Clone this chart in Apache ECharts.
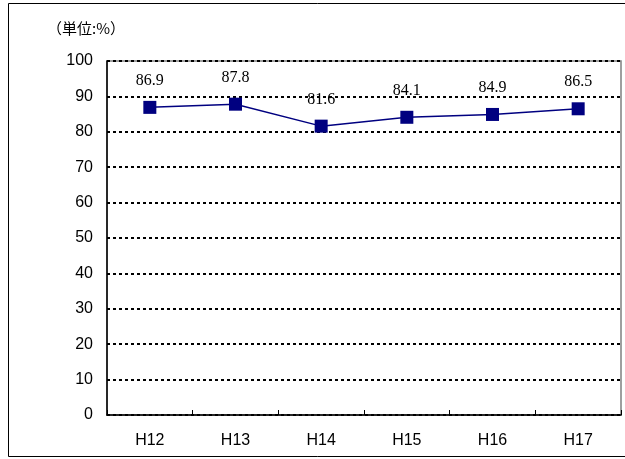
<!DOCTYPE html>
<html>
<head>
<meta charset="utf-8">
<script src="https://cdn.jsdelivr.net/npm/echarts@6/dist/echarts.min.js"></script>
<style>
  html, body { margin: 0; padding: 0; background: #fff; }
  #chart { width: 625px; height: 459px; }
</style>
</head>
<body>
<div id="chart"></div>
<script>
  // 年度と値
  var years = ['H12', 'H13', 'H14', 'H15', 'H16', 'H17'];
  var rates = [86.9, 87.8, 81.6, 84.1, 84.9, 86.5];
  var unitLabel = '（単位:%）';

  var chart = echarts.init(document.getElementById('chart'));
  chart.setOption({
    backgroundColor: '#ffffff',
    animation: false,
    graphic: [
      {
        type: 'rect',
        shape: { x: 8.5, y: 3.5, width: 630, height: 453 },
        style: { fill: 'none', stroke: '#000', lineWidth: 1 },
        silent: true
      },
      {
        type: 'rect',
        shape: { x: 107, y: 61, width: 514, height: 354 },
        style: { fill: 'none', stroke: '#808080', lineWidth: 1.5 },
        silent: true,
        z: 1
      },
      {
        type: 'text',
        left: 47,
        top: 21,
        style: {
          text: unitLabel,
          fontSize: 15,
          fontFamily: '"Noto Sans CJK JP", sans-serif',
          fill: '#000'
        }
      }
    ],
    grid: { left: 107, right: 4, top: 61, bottom: 44, containLabel: false },
    xAxis: {
      type: 'category',
      data: years,
      boundaryGap: true,
      axisLine: { lineStyle: { color: '#000', width: 1.5 } },
      axisTick: { show: true, inside: true, length: 5, alignWithLabel: false, lineStyle: { color: '#000', width: 1 } },
      axisLabel: {
        fontSize: 16,
        fontFamily: 'Arial, "Liberation Sans", sans-serif',
        color: '#000',
        margin: 18
      },
      z: 3
    },
    yAxis: {
      type: 'value',
      min: 0,
      max: 100,
      interval: 10,
      axisLine: { show: true, lineStyle: { color: '#000', width: 1.5 } },
      axisTick: { show: false },
      axisLabel: {
        fontSize: 16,
        fontFamily: 'Arial, "Liberation Sans", sans-serif',
        color: '#000',
        margin: 14
      },
      splitLine: {
        show: true,
        lineStyle: { color: '#000', width: 2, type: [3, 3] }
      },
      z: 3
    },
    series: [
      {
        type: 'line',
        data: rates,
        symbol: 'rect',
        symbolSize: 13,
        itemStyle: { color: '#000080' },
        lineStyle: { color: '#000080', width: 1.5 },
        label: {
          show: true,
          position: 'top',
          distance: 12,
          fontSize: 16,
          fontFamily: '"Liberation Serif", "Times New Roman", serif',
          color: '#000',
          formatter: function (p) { return p.value.toFixed(1); }
        },
        z: 4
      }
    ]
  });
</script>
</body>
</html>
